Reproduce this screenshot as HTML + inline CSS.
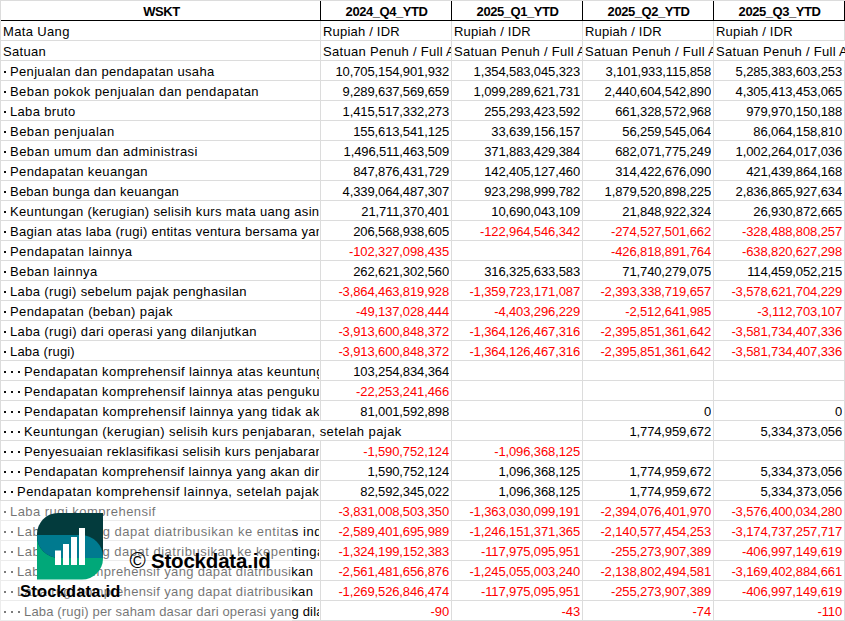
<!DOCTYPE html>
<html><head><meta charset="utf-8"><style>
html,body{margin:0;padding:0;background:#fff;}
#pg{position:relative;width:845px;height:621px;overflow:hidden;background:#fff;font-family:"Liberation Sans",sans-serif;color:#000;}
.h{position:absolute;left:0;width:845px;height:1px;background:#dcdcdc;}
.v{position:absolute;top:0;width:1px;height:621px;background:#dcdcdc;}
.c{position:absolute;height:20px;line-height:20px;white-space:pre;overflow:hidden;font-size:13px;}
.lb{letter-spacing:0.3px;}
.nm{text-align:right;letter-spacing:-0.12px;}
.rd{color:#f00;}
.hd{font-weight:bold;text-align:center;letter-spacing:-0.45px;}
.dt{position:absolute;width:2px;height:2px;background:#111;}
.bk{position:absolute;background:#000;}
</style></head><body><div id="pg">

<div class="h" style="top:0px"></div>
<div class="h" style="top:20px"></div>
<div class="h" style="top:40px"></div>
<div class="h" style="top:60px"></div>
<div class="h" style="top:80px"></div>
<div class="h" style="top:100px"></div>
<div class="h" style="top:120px"></div>
<div class="h" style="top:140px"></div>
<div class="h" style="top:160px"></div>
<div class="h" style="top:180px"></div>
<div class="h" style="top:200px"></div>
<div class="h" style="top:220px"></div>
<div class="h" style="top:240px"></div>
<div class="h" style="top:260px"></div>
<div class="h" style="top:280px"></div>
<div class="h" style="top:300px"></div>
<div class="h" style="top:320px"></div>
<div class="h" style="top:340px"></div>
<div class="h" style="top:360px"></div>
<div class="h" style="top:380px"></div>
<div class="h" style="top:400px"></div>
<div class="h" style="top:420px"></div>
<div class="h" style="top:440px"></div>
<div class="h" style="top:460px"></div>
<div class="h" style="top:480px"></div>
<div class="h" style="top:500px"></div>
<div class="h" style="top:520px"></div>
<div class="h" style="top:540px"></div>
<div class="h" style="top:560px"></div>
<div class="h" style="top:580px"></div>
<div class="h" style="top:600px"></div>
<div class="h" style="top:620px"></div>
<div class="v" style="left:0px"></div>
<div class="v" style="left:320px"></div>
<div class="v" style="left:451px"></div>
<div class="v" style="left:582px"></div>
<div class="v" style="left:713px"></div>
<div class="v" style="left:844px"></div>
<div style="position:absolute;left:320px;top:421px;width:1px;height:19px;background:#fff"></div>
<div style="position:absolute;left:844px;top:41px;width:1px;height:19px;background:#fff"></div>
<div class="bk" style="left:1px;top:20px;width:844px;height:1px"></div>
<div class="bk" style="left:320px;top:1px;width:1px;height:20px"></div>
<div class="bk" style="left:451px;top:1px;width:1px;height:20px"></div>
<div class="bk" style="left:582px;top:1px;width:1px;height:20px"></div>
<div class="bk" style="left:713px;top:1px;width:1px;height:20px"></div>
<div class="bk" style="left:844px;top:1px;width:1px;height:20px"></div>
<div class="c hd" style="left:2px;top:2px;width:319px">WSKT</div>
<div class="c hd" style="left:321.5px;top:2px;width:130px">2024_Q4_YTD</div>
<div class="c hd" style="left:452.5px;top:2px;width:130px">2025_Q1_YTD</div>
<div class="c hd" style="left:583.5px;top:2px;width:130px">2025_Q2_YTD</div>
<div class="c hd" style="left:714.5px;top:2px;width:130px">2025_Q3_YTD</div>
<div class="c lb" style="left:3px;top:22px;width:316px;letter-spacing:0.356px">Mata Uang</div>
<div class="c lb" style="left:323px;top:22px;width:128px;letter-spacing:0.2px">Rupiah / IDR</div>
<div class="c lb" style="left:454px;top:22px;width:128px;letter-spacing:0.2px">Rupiah / IDR</div>
<div class="c lb" style="left:585px;top:22px;width:128px;letter-spacing:0.2px">Rupiah / IDR</div>
<div class="c lb" style="left:716px;top:22px;width:200px;letter-spacing:0.2px">Rupiah / IDR</div>
<div class="c lb" style="left:3px;top:42px;width:316px;letter-spacing:0.300px">Satuan</div>
<div class="c lb" style="left:323px;top:42px;width:128px;letter-spacing:0.3px">Satuan Penuh / Full Amount</div>
<div class="c lb" style="left:454px;top:42px;width:128px;letter-spacing:0.3px">Satuan Penuh / Full Amount</div>
<div class="c lb" style="left:585px;top:42px;width:128px;letter-spacing:0.3px">Satuan Penuh / Full Amount</div>
<div class="c lb" style="left:716px;top:42px;width:200px;letter-spacing:0.3px">Satuan Penuh / Full Amount</div>
<div class="dt" style="left:4.0px;top:71px"></div>
<div class="c lb" style="left:10px;top:62px;width:309px;letter-spacing:0.337px">Penjualan dan pendapatan usaha</div>
<div class="c nm" style="left:321px;top:62px;width:128px">10,705,154,901,932</div>
<div class="c nm" style="left:452px;top:62px;width:128px">1,354,583,045,323</div>
<div class="c nm" style="left:583px;top:62px;width:128px">3,101,933,115,858</div>
<div class="c nm" style="left:714px;top:62px;width:128px">5,285,383,603,253</div>
<div class="dt" style="left:4.0px;top:91px"></div>
<div class="c lb" style="left:10px;top:82px;width:309px;letter-spacing:0.431px">Beban pokok penjualan dan pendapatan</div>
<div class="c nm" style="left:321px;top:82px;width:128px">9,289,637,569,659</div>
<div class="c nm" style="left:452px;top:82px;width:128px">1,099,289,621,731</div>
<div class="c nm" style="left:583px;top:82px;width:128px">2,440,604,542,890</div>
<div class="c nm" style="left:714px;top:82px;width:128px">4,305,413,453,065</div>
<div class="dt" style="left:4.0px;top:111px"></div>
<div class="c lb" style="left:10px;top:102px;width:309px;letter-spacing:0.330px">Laba bruto</div>
<div class="c nm" style="left:321px;top:102px;width:128px">1,415,517,332,273</div>
<div class="c nm" style="left:452px;top:102px;width:128px">255,293,423,592</div>
<div class="c nm" style="left:583px;top:102px;width:128px">661,328,572,968</div>
<div class="c nm" style="left:714px;top:102px;width:128px">979,970,150,188</div>
<div class="dt" style="left:4.0px;top:131px"></div>
<div class="c lb" style="left:10px;top:122px;width:309px;letter-spacing:0.480px">Beban penjualan</div>
<div class="c nm" style="left:321px;top:122px;width:128px">155,613,541,125</div>
<div class="c nm" style="left:452px;top:122px;width:128px">33,639,156,157</div>
<div class="c nm" style="left:583px;top:122px;width:128px">56,259,545,064</div>
<div class="c nm" style="left:714px;top:122px;width:128px">86,064,158,810</div>
<div class="dt" style="left:4.0px;top:151px"></div>
<div class="c lb" style="left:10px;top:142px;width:309px;letter-spacing:0.456px">Beban umum dan administrasi</div>
<div class="c nm" style="left:321px;top:142px;width:128px">1,496,511,463,509</div>
<div class="c nm" style="left:452px;top:142px;width:128px">371,883,429,384</div>
<div class="c nm" style="left:583px;top:142px;width:128px">682,071,775,249</div>
<div class="c nm" style="left:714px;top:142px;width:128px">1,002,264,017,036</div>
<div class="dt" style="left:4.0px;top:171px"></div>
<div class="c lb" style="left:10px;top:162px;width:309px;letter-spacing:0.374px">Pendapatan keuangan</div>
<div class="c nm" style="left:321px;top:162px;width:128px">847,876,431,729</div>
<div class="c nm" style="left:452px;top:162px;width:128px">142,405,127,460</div>
<div class="c nm" style="left:583px;top:162px;width:128px">314,422,676,090</div>
<div class="c nm" style="left:714px;top:162px;width:128px">421,439,864,168</div>
<div class="dt" style="left:4.0px;top:191px"></div>
<div class="c lb" style="left:10px;top:182px;width:309px;letter-spacing:0.237px">Beban bunga dan keuangan</div>
<div class="c nm" style="left:321px;top:182px;width:128px">4,339,064,487,307</div>
<div class="c nm" style="left:452px;top:182px;width:128px">923,298,999,782</div>
<div class="c nm" style="left:583px;top:182px;width:128px">1,879,520,898,225</div>
<div class="c nm" style="left:714px;top:182px;width:128px">2,836,865,927,634</div>
<div class="dt" style="left:4.0px;top:211px"></div>
<div class="c lb" style="left:10px;top:202px;width:309px;letter-spacing:0.342px">Keuntungan (kerugian) selisih kurs mata uang asing</div>
<div class="c nm" style="left:321px;top:202px;width:128px">21,711,370,401</div>
<div class="c nm" style="left:452px;top:202px;width:128px">10,690,043,109</div>
<div class="c nm" style="left:583px;top:202px;width:128px">21,848,922,324</div>
<div class="c nm" style="left:714px;top:202px;width:128px">26,930,872,665</div>
<div class="dt" style="left:4.0px;top:231px"></div>
<div class="c lb" style="left:10px;top:222px;width:309px;letter-spacing:0.292px">Bagian atas laba (rugi) entitas ventura bersama yang dicatat</div>
<div class="c nm" style="left:321px;top:222px;width:128px">206,568,938,605</div>
<div class="c nm rd" style="left:452px;top:222px;width:128px">-122,964,546,342</div>
<div class="c nm rd" style="left:583px;top:222px;width:128px">-274,527,501,662</div>
<div class="c nm rd" style="left:714px;top:222px;width:128px">-328,488,808,257</div>
<div class="dt" style="left:4.0px;top:251px"></div>
<div class="c lb" style="left:10px;top:242px;width:309px;letter-spacing:0.422px">Pendapatan lainnya</div>
<div class="c nm rd" style="left:321px;top:242px;width:128px">-102,327,098,435</div>
<div class="c nm rd" style="left:583px;top:242px;width:128px">-426,818,891,764</div>
<div class="c nm rd" style="left:714px;top:242px;width:128px">-638,820,627,298</div>
<div class="dt" style="left:4.0px;top:271px"></div>
<div class="c lb" style="left:10px;top:262px;width:309px;letter-spacing:0.400px">Beban lainnya</div>
<div class="c nm" style="left:321px;top:262px;width:128px">262,621,302,560</div>
<div class="c nm" style="left:452px;top:262px;width:128px">316,325,633,583</div>
<div class="c nm" style="left:583px;top:262px;width:128px">71,740,279,075</div>
<div class="c nm" style="left:714px;top:262px;width:128px">114,459,052,215</div>
<div class="dt" style="left:4.0px;top:291px"></div>
<div class="c lb" style="left:10px;top:282px;width:309px;letter-spacing:0.349px">Laba (rugi) sebelum pajak penghasilan</div>
<div class="c nm rd" style="left:321px;top:282px;width:128px">-3,864,463,819,928</div>
<div class="c nm rd" style="left:452px;top:282px;width:128px">-1,359,723,171,087</div>
<div class="c nm rd" style="left:583px;top:282px;width:128px">-2,393,338,719,657</div>
<div class="c nm rd" style="left:714px;top:282px;width:128px">-3,578,621,704,229</div>
<div class="dt" style="left:4.0px;top:311px"></div>
<div class="c lb" style="left:10px;top:302px;width:309px;letter-spacing:0.400px">Pendapatan (beban) pajak</div>
<div class="c nm rd" style="left:321px;top:302px;width:128px">-49,137,028,444</div>
<div class="c nm rd" style="left:452px;top:302px;width:128px">-4,403,296,229</div>
<div class="c nm rd" style="left:583px;top:302px;width:128px">-2,512,641,985</div>
<div class="c nm rd" style="left:714px;top:302px;width:128px">-3,112,703,107</div>
<div class="dt" style="left:4.0px;top:331px"></div>
<div class="c lb" style="left:10px;top:322px;width:309px;letter-spacing:0.363px">Laba (rugi) dari operasi yang dilanjutkan</div>
<div class="c nm rd" style="left:321px;top:322px;width:128px">-3,913,600,848,372</div>
<div class="c nm rd" style="left:452px;top:322px;width:128px">-1,364,126,467,316</div>
<div class="c nm rd" style="left:583px;top:322px;width:128px">-2,395,851,361,642</div>
<div class="c nm rd" style="left:714px;top:322px;width:128px">-3,581,734,407,336</div>
<div class="dt" style="left:4.0px;top:351px"></div>
<div class="c lb" style="left:10px;top:342px;width:309px;letter-spacing:0.182px">Laba (rugi)</div>
<div class="c nm rd" style="left:321px;top:342px;width:128px">-3,913,600,848,372</div>
<div class="c nm rd" style="left:452px;top:342px;width:128px">-1,364,126,467,316</div>
<div class="c nm rd" style="left:583px;top:342px;width:128px">-2,395,851,361,642</div>
<div class="c nm rd" style="left:714px;top:342px;width:128px">-3,581,734,407,336</div>
<div class="dt" style="left:4.0px;top:371px"></div>
<div class="dt" style="left:11.1px;top:371px"></div>
<div class="dt" style="left:18.2px;top:371px"></div>
<div class="c lb" style="left:24px;top:362px;width:295px;letter-spacing:0.398px">Pendapatan komprehensif lainnya atas keuntungan</div>
<div class="c nm" style="left:321px;top:362px;width:128px">103,254,834,364</div>
<div class="dt" style="left:4.0px;top:391px"></div>
<div class="dt" style="left:11.1px;top:391px"></div>
<div class="dt" style="left:18.2px;top:391px"></div>
<div class="c lb" style="left:24px;top:382px;width:295px;letter-spacing:0.398px">Pendapatan komprehensif lainnya atas pengukuran</div>
<div class="c nm rd" style="left:321px;top:382px;width:128px">-22,253,241,466</div>
<div class="dt" style="left:4.0px;top:411px"></div>
<div class="dt" style="left:11.1px;top:411px"></div>
<div class="dt" style="left:18.2px;top:411px"></div>
<div class="c lb" style="left:24px;top:402px;width:295px;letter-spacing:0.425px">Pendapatan komprehensif lainnya yang tidak akan</div>
<div class="c nm" style="left:321px;top:402px;width:128px">81,001,592,898</div>
<div class="c nm" style="left:583px;top:402px;width:128px">0</div>
<div class="c nm" style="left:714px;top:402px;width:128px">0</div>
<div class="dt" style="left:4.0px;top:431px"></div>
<div class="dt" style="left:11.1px;top:431px"></div>
<div class="dt" style="left:18.2px;top:431px"></div>
<div class="c lb" style="left:24px;top:422px;width:450px;letter-spacing:0.417px">Keuntungan (kerugian) selisih kurs penjabaran, setelah pajak</div>
<div class="c nm" style="left:583px;top:422px;width:128px">1,774,959,672</div>
<div class="c nm" style="left:714px;top:422px;width:128px">5,334,373,056</div>
<div class="dt" style="left:4.0px;top:451px"></div>
<div class="dt" style="left:11.1px;top:451px"></div>
<div class="dt" style="left:18.2px;top:451px"></div>
<div class="c lb" style="left:24px;top:442px;width:295px;letter-spacing:0.339px">Penyesuaian reklasifikasi selisih kurs penjabaran</div>
<div class="c nm rd" style="left:321px;top:442px;width:128px">-1,590,752,124</div>
<div class="c nm rd" style="left:452px;top:442px;width:128px">-1,096,368,125</div>
<div class="dt" style="left:4.0px;top:471px"></div>
<div class="dt" style="left:11.1px;top:471px"></div>
<div class="dt" style="left:18.2px;top:471px"></div>
<div class="c lb" style="left:24px;top:462px;width:295px;letter-spacing:0.383px">Pendapatan komprehensif lainnya yang akan direklasifikasi</div>
<div class="c nm" style="left:321px;top:462px;width:128px">1,590,752,124</div>
<div class="c nm" style="left:452px;top:462px;width:128px">1,096,368,125</div>
<div class="c nm" style="left:583px;top:462px;width:128px">1,774,959,672</div>
<div class="c nm" style="left:714px;top:462px;width:128px">5,334,373,056</div>
<div class="dt" style="left:4.0px;top:491px"></div>
<div class="dt" style="left:11.1px;top:491px"></div>
<div class="c lb" style="left:17px;top:482px;width:302px;letter-spacing:0.476px">Pendapatan komprehensif lainnya, setelah pajak</div>
<div class="c nm" style="left:321px;top:482px;width:128px">82,592,345,022</div>
<div class="c nm" style="left:452px;top:482px;width:128px">1,096,368,125</div>
<div class="c nm" style="left:583px;top:482px;width:128px">1,774,959,672</div>
<div class="c nm" style="left:714px;top:482px;width:128px">5,334,373,056</div>
<div class="dt" style="left:4.0px;top:511px"></div>
<div class="c lb" style="left:10px;top:502px;width:309px;letter-spacing:0.455px">Laba rugi komprehensif</div>
<div class="c nm rd" style="left:321px;top:502px;width:128px">-3,831,008,503,350</div>
<div class="c nm rd" style="left:452px;top:502px;width:128px">-1,363,030,099,191</div>
<div class="c nm rd" style="left:583px;top:502px;width:128px">-2,394,076,401,970</div>
<div class="c nm rd" style="left:714px;top:502px;width:128px">-3,576,400,034,280</div>
<div class="dt" style="left:4.0px;top:531px"></div>
<div class="dt" style="left:11.1px;top:531px"></div>
<div class="c lb" style="left:17px;top:522px;width:302px;letter-spacing:0.530px">Laba rugi yang dapat diatribusikan ke entitas induk</div>
<div class="c nm rd" style="left:321px;top:522px;width:128px">-2,589,401,695,989</div>
<div class="c nm rd" style="left:452px;top:522px;width:128px">-1,246,151,371,365</div>
<div class="c nm rd" style="left:583px;top:522px;width:128px">-2,140,577,454,253</div>
<div class="c nm rd" style="left:714px;top:522px;width:128px">-3,174,737,257,717</div>
<div class="dt" style="left:4.0px;top:551px"></div>
<div class="dt" style="left:11.1px;top:551px"></div>
<div class="c lb" style="left:17px;top:542px;width:302px;letter-spacing:0.508px">Laba rugi yang dapat diatribusikan ke kepentingan non-pengendali</div>
<div class="c nm rd" style="left:321px;top:542px;width:128px">-1,324,199,152,383</div>
<div class="c nm rd" style="left:452px;top:542px;width:128px">-117,975,095,951</div>
<div class="c nm rd" style="left:583px;top:542px;width:128px">-255,273,907,389</div>
<div class="c nm rd" style="left:714px;top:542px;width:128px">-406,997,149,619</div>
<div class="dt" style="left:4.0px;top:571px"></div>
<div class="dt" style="left:11.1px;top:571px"></div>
<div class="c lb" style="left:17px;top:562px;width:302px;letter-spacing:0.337px">Laba rugi komprehensif yang dapat diatribusikan</div>
<div class="c nm rd" style="left:321px;top:562px;width:128px">-2,561,481,656,876</div>
<div class="c nm rd" style="left:452px;top:562px;width:128px">-1,245,055,003,240</div>
<div class="c nm rd" style="left:583px;top:562px;width:128px">-2,138,802,494,581</div>
<div class="c nm rd" style="left:714px;top:562px;width:128px">-3,169,402,884,661</div>
<div class="dt" style="left:4.0px;top:591px"></div>
<div class="dt" style="left:11.1px;top:591px"></div>
<div class="c lb" style="left:17px;top:582px;width:302px;letter-spacing:0.337px">Laba rugi komprehensif yang dapat diatribusikan</div>
<div class="c nm rd" style="left:321px;top:582px;width:128px">-1,269,526,846,474</div>
<div class="c nm rd" style="left:452px;top:582px;width:128px">-117,975,095,951</div>
<div class="c nm rd" style="left:583px;top:582px;width:128px">-255,273,907,389</div>
<div class="c nm rd" style="left:714px;top:582px;width:128px">-406,997,149,619</div>
<div class="dt" style="left:4.0px;top:611px"></div>
<div class="dt" style="left:11.1px;top:611px"></div>
<div class="dt" style="left:18.2px;top:611px"></div>
<div class="c lb" style="left:24px;top:602px;width:295px;letter-spacing:0.168px">Laba (rugi) per saham dasar dari operasi yang dilanjutkan</div>
<div class="c nm rd" style="left:321px;top:602px;width:128px">-90</div>
<div class="c nm rd" style="left:452px;top:602px;width:128px">-43</div>
<div class="c nm rd" style="left:583px;top:602px;width:128px">-74</div>
<div class="c nm rd" style="left:714px;top:602px;width:128px">-110</div>
<div style="position:absolute;left:0;top:501px;width:292px;height:120px;background:rgba(255,255,255,0.45)"></div>
<svg style="position:absolute;left:0;top:0" width="845" height="621" viewBox="0 0 845 621">
<defs>
<clipPath id="ca"><path d="M37,534 A21,21 0 0 1 58,513 L103,513 L103,558 L59,558 A22,22 0 0 1 37,536 Z"/></clipPath>
</defs>
<path d="M37,535 L81,535 A22,22 0 0 1 103,557 L103,558.5 A21,21 0 0 1 82,579.5 L37,579.5 Z" fill="#01a879"/>
<path d="M37,534 A21,21 0 0 1 58,513 L103,513 L103,558 L59,558 A22,22 0 0 1 37,536 Z" fill="#033b3d"/>
<path clip-path="url(#ca)" d="M37,535 L81,535 A22,22 0 0 1 103,557 L103,558.5 A21,21 0 0 1 82,579.5 L37,579.5 Z" fill="#007a8f"/>
<rect x="55" y="550.5" width="6" height="14.5" fill="#fff"/>
<rect x="63" y="544" width="6" height="21" fill="#fff"/>
<rect x="71" y="537" width="6" height="28" fill="#fff"/>
<rect x="79" y="528" width="6" height="37" fill="#fff"/>
</svg>
<div style="position:absolute;left:20px;top:581px;font-size:16.5px;font-weight:bold;line-height:20px;letter-spacing:0.2px;white-space:pre">Stockdata.id</div>
<div style="position:absolute;left:129.5px;top:549px;font-size:22px;line-height:24px;white-space:pre">©</div>
<div style="position:absolute;left:151px;top:549px;font-size:20.5px;font-weight:bold;line-height:24px;letter-spacing:-0.2px;white-space:pre">Stockdata.id</div>
</div></body></html>
